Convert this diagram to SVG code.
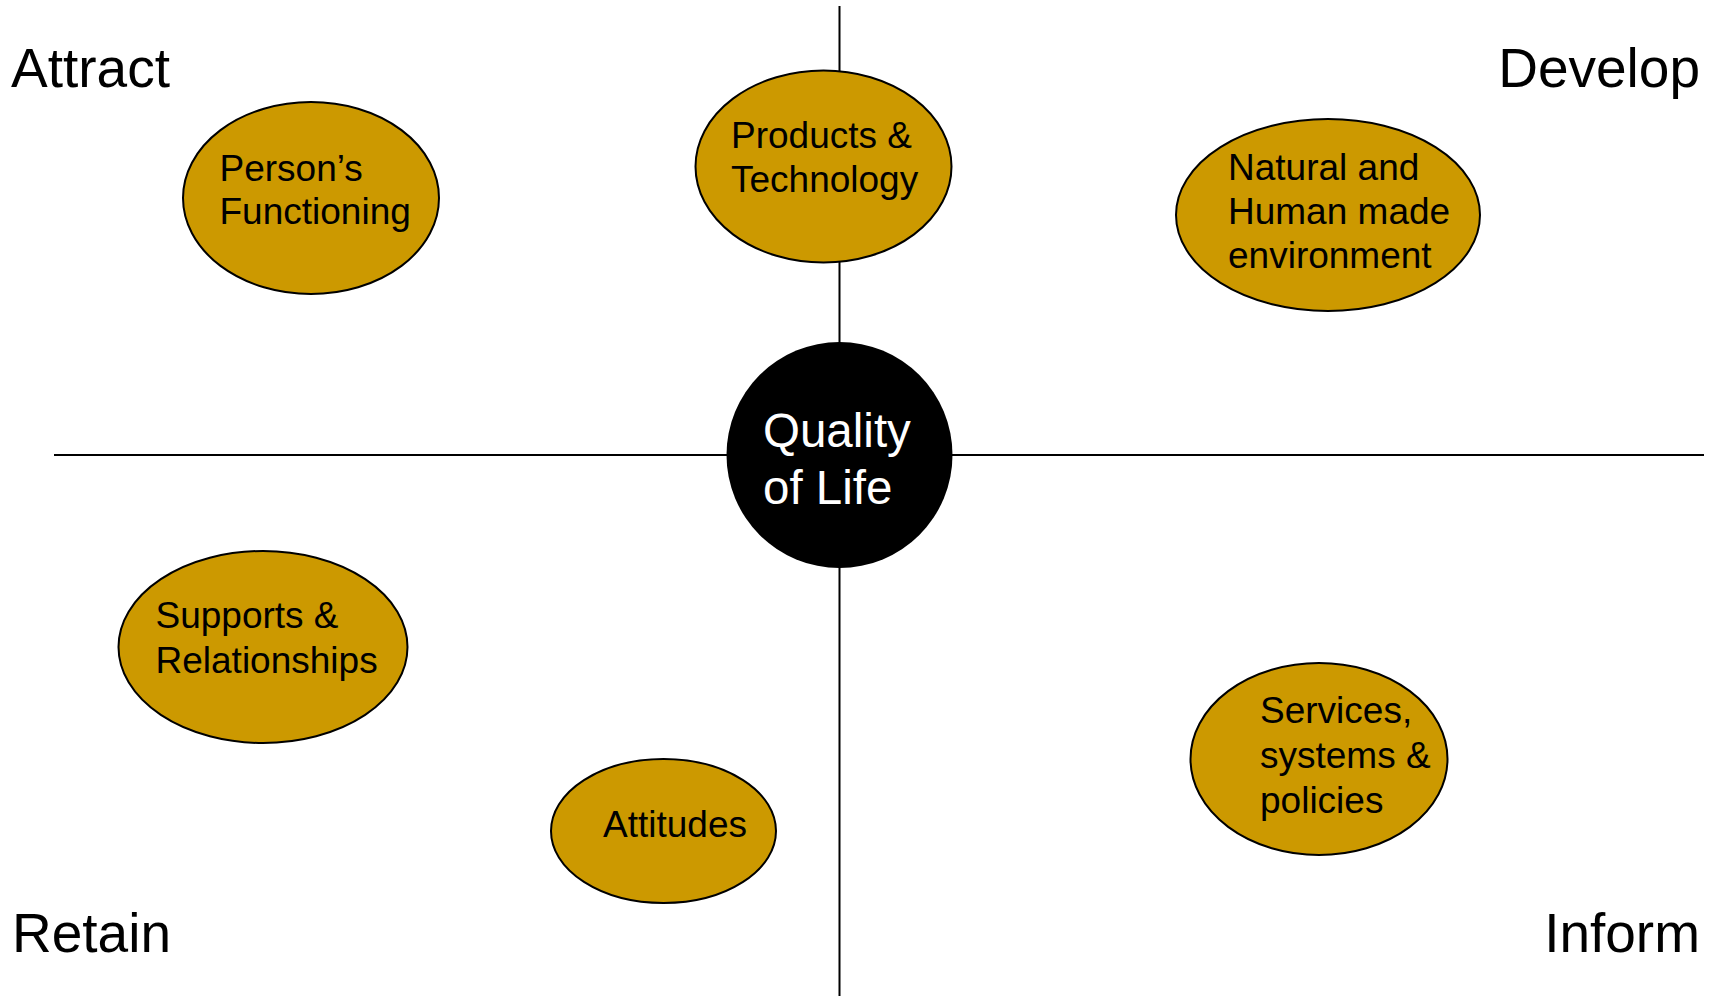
<svg xmlns="http://www.w3.org/2000/svg" width="1715" height="996" viewBox="0 0 1715 996">
<style>
.bg{fill:#ffffff}
.axis{stroke:#000;stroke-width:2;fill:none}
.node{fill:#CC9900;stroke:#000;stroke-width:2}
.lbl{font-family:"Liberation Sans",Arial,sans-serif;font-size:37px;fill:#000}
.corner{font-family:"Liberation Sans",Arial,sans-serif;font-size:55px;fill:#000}
.center{fill:#000}
.ctext{font-family:"Liberation Sans",Arial,sans-serif;font-size:47.5px;fill:#fff}
</style>
<rect class="bg" x="0" y="0" width="1715" height="996"/>
<g id="connectors">
<line class="axis" x1="839.5" y1="6" x2="839.5" y2="996"/>
<line class="axis" x1="54" y1="455" x2="1704" y2="455"/>
</g>
<g id="corner-labels">
<text class="corner" x="11" y="87">Attract</text>
<text class="corner" x="1700" y="87" text-anchor="end">Develop</text>
<text class="corner" x="12" y="952">Retain</text>
<text class="corner" x="1700" y="952" text-anchor="end">Inform</text>
</g>
<g id="quality-of-life">
<circle class="center" cx="839.5" cy="455" r="113"/>
<text class="ctext" x="763" y="447">Quality</text>
<text class="ctext" x="763" y="504">of Life</text>
</g>
<g id="persons-functioning">
<ellipse class="node" cx="311" cy="198" rx="128" ry="96"/>
<text class="lbl" x="219.5" y="181">Person’s</text>
<text class="lbl" x="219.5" y="224">Functioning</text>
</g>
<g id="products-technology">
<ellipse class="node" cx="823.5" cy="166.5" rx="128" ry="96"/>
<text class="lbl" x="731" y="148">Products &amp;</text>
<text class="lbl" x="731" y="192">Technology</text>
</g>
<g id="natural-environment">
<ellipse class="node" cx="1328" cy="215" rx="152" ry="96"/>
<text class="lbl" x="1228" y="180">Natural and</text>
<text class="lbl" x="1228" y="224">Human made</text>
<text class="lbl" x="1228" y="268">environment</text>
</g>
<g id="supports-relationships">
<ellipse class="node" cx="263" cy="647" rx="144.5" ry="96"/>
<text class="lbl" x="155.5" y="628">Supports &amp;</text>
<text class="lbl" x="155.5" y="673">Relationships</text>
</g>
<g id="attitudes">
<ellipse class="node" cx="663.5" cy="831" rx="112.5" ry="72"/>
<text class="lbl" x="603" y="837">Attitudes</text>
</g>
<g id="services-systems-policies">
<ellipse class="node" cx="1319" cy="759" rx="128.5" ry="96"/>
<text class="lbl" x="1260" y="723">Services,</text>
<text class="lbl" x="1260" y="768">systems &amp;</text>
<text class="lbl" x="1260" y="813">policies</text>
</g>
</svg>
